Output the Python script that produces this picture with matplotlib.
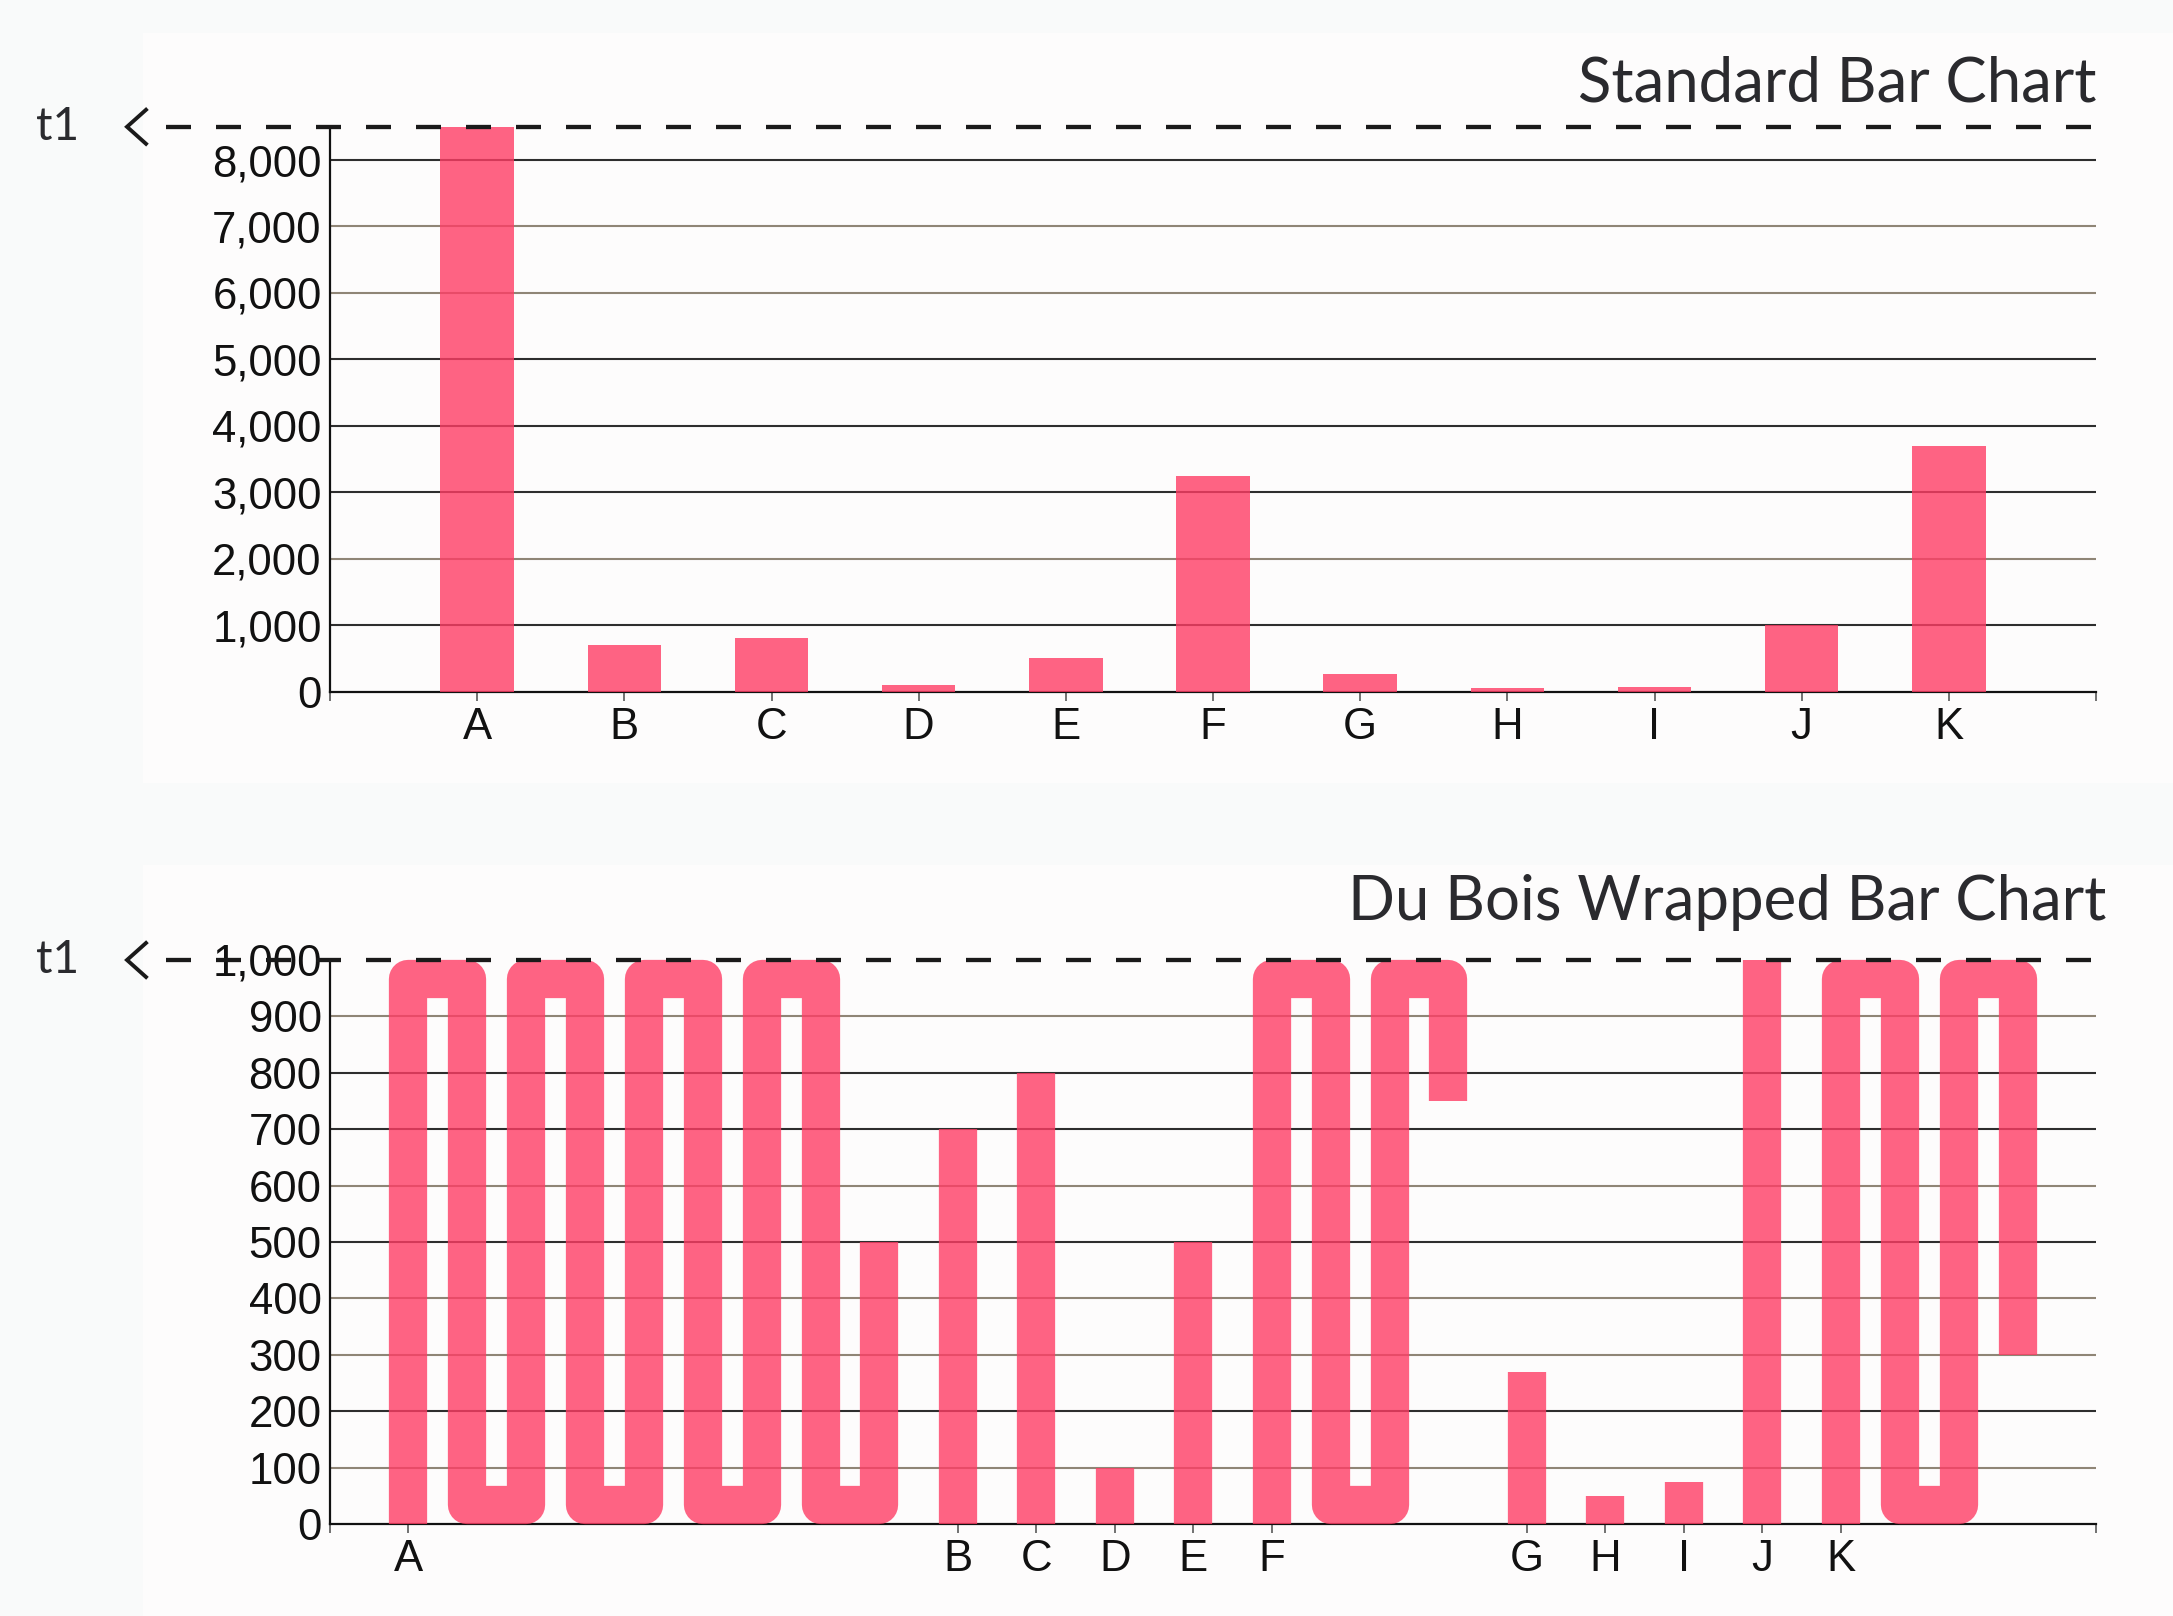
import numpy as np
import matplotlib
matplotlib.use('Agg')
import matplotlib.pyplot as plt
from matplotlib.patches import Rectangle
from matplotlib.transforms import blended_transform_factory
from matplotlib.ticker import StrMethodFormatter

# data
categories = ['A', 'B', 'C', 'D', 'E', 'F', 'G', 'H', 'I', 'J', 'K']
values = [8500, 700, 800, 100, 500, 3250, 270, 50, 75, 1000, 3700]
t1 = 8500          # threshold line shown as "t1"
wrap_at = 1000     # height at which the Du Bois bars fold over

top_ticks = [0, 1000, 2000, 3000, 4000, 5000, 6000, 7000, 8000]
bottom_ticks = [0, 100, 200, 300, 400, 500, 600, 700, 800, 900, 1000]

DARK = '#2e2e2e'
TAN = '#8f8576'
top_grid_colors = [DARK, TAN, DARK, DARK, DARK, TAN, TAN, DARK]        # 1000..8000
bottom_grid_colors = [TAN, DARK, TAN, TAN, DARK, TAN, DARK, DARK, TAN]  # 100..900

PINK = '#ff3d65'
ALPHA = 0.8

plt.rcParams['lines.scale_dashes'] = False
tick_font = 'Liberation Sans'
title_font = 'Lato'

W, H = 2173, 1616
fig = plt.figure(figsize=(W / 100, H / 100), dpi=100, facecolor='#f9fafa')

# faint panels behind each chart
for y0, y1 in [(33, 783), (865, H)]:
    fig.patches.append(Rectangle((143 / W, 1 - y1 / H), (W - 143) / W, (y1 - y0) / H,
                                 transform=fig.transFigure, facecolor='#fdfcfc',
                                 edgecolor='none', zorder=-10))

ax1 = fig.add_axes([330 / W, 1 - 691.5 / H, 1766 / W, 564.7 / H])
ax2 = fig.add_axes([330 / W, 1 - 1524 / H, 1766 / W, 564 / H])


def style_axes(ax, yticks, grid_colors, fmt):
    ax.set_facecolor('none')
    for s in ['top', 'right']:
        ax.spines[s].set_visible(False)
    for s in ['left', 'bottom']:
        ax.spines[s].set_linewidth(1.6)
        ax.spines[s].set_color('#111111')
    ax.set_yticks(yticks)
    ax.yaxis.set_major_formatter(StrMethodFormatter(fmt))
    ax.tick_params(axis='y', length=0, pad=6, labelsize=31.5, labelcolor='#111111')
    ax.tick_params(axis='x', which='both', length=6.5, width=1.3, color='#666666',
                   pad=4.5, labelsize=31.5, labelcolor='#111111')
    for lab in ax.get_xticklabels() + ax.get_yticklabels():
        lab.set_fontfamily(tick_font)
    for yv, c in zip(yticks[1:], grid_colors):
        ax.axhline(yv, color=c, lw=1.5, zorder=1)


def threshold_line(ax, yv, label):
    tr = blended_transform_factory(ax.transAxes, ax.transData)
    x_start = (166 - 330) / 1766
    ax.plot([x_start, 1.0], [yv, yv], transform=tr, color='#1a1a1a', lw=3.1,
            ls=(0, (18, 18)), clip_on=False, zorder=5)
    # chevron at the left end
    ytop = ax.transData.transform((0, yv))[1]
    px = np.array([146, 127, 146])
    py = ytop + np.array([17, 0, -17])
    ax.plot(px / W, py / H, transform=fig.transFigure, color='#1a1a1a', lw=2.8,
            clip_on=False, solid_joinstyle='miter')
    fig.text(36 / W, ytop / H, label, fontsize=33, family=title_font,
             color='#2a2a2e', va='center', ha='left')


# ---- Standard bar chart ----
x_std = np.arange(1, len(categories) + 1)
ax1.bar(x_std, values, width=0.5, color=PINK, alpha=ALPHA, zorder=3)
ax1.set_xlim(0, len(categories) + 1)
ax1.set_ylim(0, t1)
ax1.set_xticks(x_std)
ax1.set_xticklabels(categories)
ax1.set_xticks([0, len(categories) + 1], minor=True)
style_axes(ax1, top_ticks, top_grid_colors, '{x:,.0f}')
threshold_line(ax1, t1, 't1')
fig.text(2097 / W, 1 - 102 / H, 'Standard Bar Chart', fontsize=44.5, family=title_font,
         color='#2a2a2e', ha='right', va='baseline')

# ---- Du Bois wrapped bar chart ----
gap = 4 / 3
col_w = 0.65
first_x = []
ncols = []
x = gap
for v in values:
    n = max(1, int(np.ceil(v / wrap_at)))
    first_x.append(x)
    ncols.append(n)
    x += (n - 1) + gap
x_max = x

ax2.set_xlim(0, x_max)
ax2.set_ylim(0, wrap_at)
ax2.set_xticks(first_x)
ax2.set_xticklabels(categories)
ax2.set_xticks([0, x_max], minor=True)
style_axes(ax2, bottom_ticks, bottom_grid_colors, '{x:,.0f}')

pos = ax2.get_position()
ax_w_px = pos.width * W
ax_h_px = pos.height * H
col_px = col_w * ax_w_px / x_max
lw_pt = col_px * 72 / fig.dpi
half = (col_px / 2) / (ax_h_px / wrap_at)

for x0, v, n in zip(first_x, values, ncols):
    xs, ys = [x0], [0]
    cur = 0
    for i in range(n):
        xi = x0 + i
        up = (i % 2 == 0)
        if i > 0:
            xs.append(xi)
            ys.append(cur)
        if i == n - 1:
            rem = v - (n - 1) * wrap_at
            end = rem if up else wrap_at - rem
        else:
            end = wrap_at - half if up else half
        xs.append(xi)
        ys.append(end)
        cur = end
    ax2.plot(xs, ys, color=PINK, alpha=ALPHA, lw=lw_pt, solid_joinstyle='round',
             solid_capstyle='butt', clip_on=False, zorder=3)

threshold_line(ax2, wrap_at, 't1')
fig.text(2106 / W, 1 - 920 / H, 'Du Bois Wrapped Bar Chart', fontsize=44.5, family=title_font,
         color='#2a2a2e', ha='right', va='baseline')

fig.savefig('out.png', dpi=100, facecolor=fig.get_facecolor())
